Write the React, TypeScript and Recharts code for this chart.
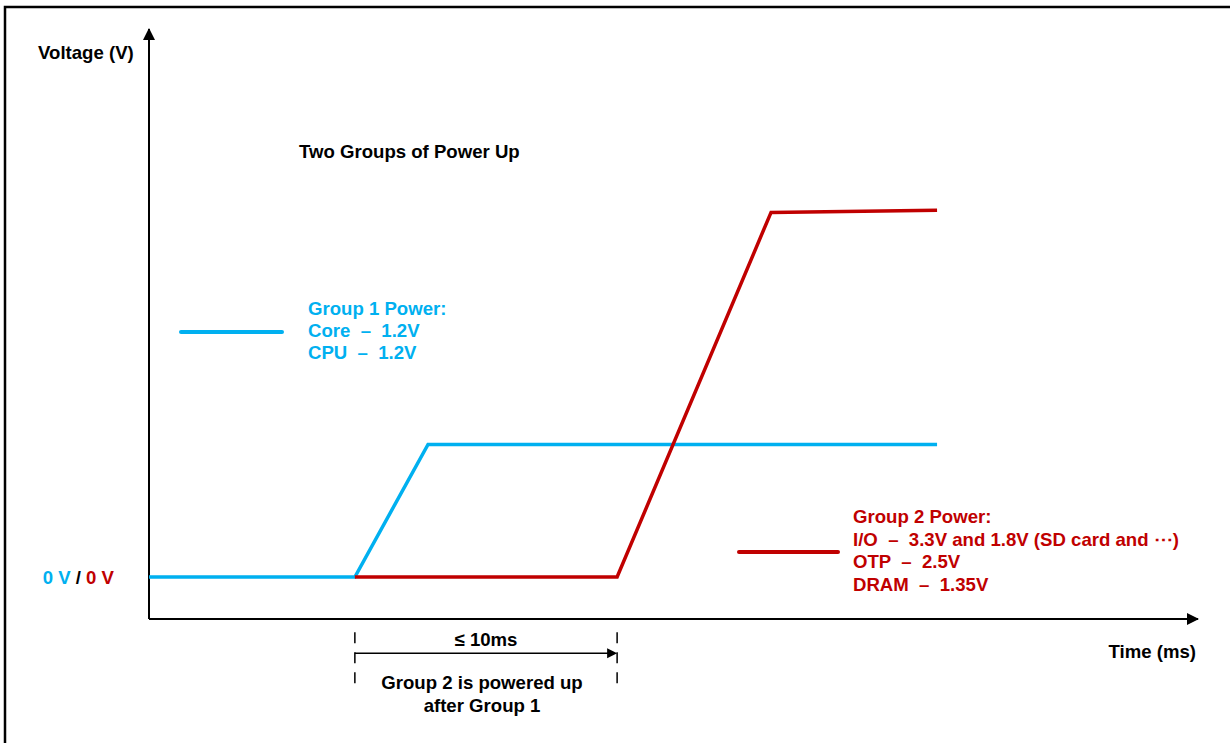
import React from "react";
import { LineChart, Line, XAxis, YAxis, ReferenceLine, ReferenceDot } from "recharts";

// ---- data ----
const group1Power = [
  { t: 0, v: 0 },
  { t: 7.85, v: 0 },
  { t: 10.64, v: 1.2 },
  { t: 30.05, v: 1.2 },
];
const group2Power = [
  { t: 7.85, v: 0 },
  { t: 17.85, v: 0 },
  { t: 23.72, v: 3.3 },
  { t: 30.05, v: 3.32 },
];
const timeDomain = [0, 40];
const voltDomain = [-0.38, 4.96];
const yTicks = [0];
const delayStart = 7.85;
const delayEnd = 17.85;
const group1Legend = ["Group 1 Power:", "Core  \u2013  1.2V", "CPU  \u2013  1.2V"];
const group2Legend = [
  "Group 2 Power:",
  "I/O  \u2013  3.3V and 1.8V (SD card and \u22EF)",
  "OTP  \u2013  2.5V",
  "DRAM  \u2013  1.35V",
];
const titleText = "Two Groups of Power Up";
const yAxisTitle = "Voltage (V)";
const xAxisTitle = "Time (ms)";
const delayLabel = "\u2264 10ms";
const delayNote = ["Group 2 is powered up", "after Group 1"];

const BLUE = "#00B0F0";
const RED = "#C00000";
const FONT = "'Liberation Sans', Arial, Helvetica, sans-serif";
const FS = 18.6;

const textStyle: React.CSSProperties = { whiteSpace: "pre" };

const UpArrow = (props: any) => {
  const { cx, cy } = props;
  return <path d={`M${cx},${cy - 1} L${cx - 6},${cy + 11} L${cx + 6},${cy + 11} Z`} fill="#000" />;
};
const RightArrow = (props: any) => {
  const { cx, cy } = props;
  return <path d={`M${cx + 1},${cy} L${cx - 11},${cy - 6} L${cx - 11},${cy + 6} Z`} fill="#000" />;
};
const SmallRightArrow = (props: any) => {
  const { cx, cy } = props;
  return <path d={`M${cx},${cy} L${cx - 10},${cy - 5} L${cx - 10},${cy + 5} Z`} fill="#000" />;
};

export default function App() {
  return (
    <div style={{ position: "fixed", left: 0, top: 0, width: 1230, height: 743, background: "#fff" }}>
      <LineChart
        width={1230}
        height={743}
        margin={{ top: 29, right: 32, bottom: 124, left: 149 }}
        style={{ fontFamily: FONT }}
      >
        {/* frame */}
        <rect x={5} y={7} width={1400} height={900} fill="none" stroke="#000" strokeWidth={2.5} />
        <XAxis type="number" dataKey="t" domain={timeDomain} allowDataOverflow hide />
        <YAxis type="number" dataKey="v" domain={voltDomain} allowDataOverflow hide ticks={yTicks} />

        {/* axes */}
        <ReferenceLine x={timeDomain[0]} stroke="#000" strokeWidth={2} ifOverflow="visible" />
        <ReferenceLine y={voltDomain[0]} stroke="#000" strokeWidth={2} ifOverflow="visible" />
        <ReferenceDot x={timeDomain[0]} y={voltDomain[1]} ifOverflow="visible" shape={<UpArrow />} />
        <ReferenceDot x={timeDomain[1]} y={voltDomain[0]} ifOverflow="visible" shape={<RightArrow />} />

        <Line
          data={group1Power}
          dataKey="v"
          type="linear"
          stroke={BLUE}
          strokeWidth={3.5}
          dot={false}
          activeDot={false}
          isAnimationActive={false}
          strokeLinejoin="miter"
        />
        <Line
          data={group2Power}
          dataKey="v"
          type="linear"
          stroke={RED}
          strokeWidth={3.5}
          dot={false}
          activeDot={false}
          isAnimationActive={false}
          strokeLinejoin="miter"
        />

        {/* 0 V label at the zero level */}
        <ReferenceDot
          x={timeDomain[0]}
          y={yTicks[0]}
          ifOverflow="visible"
          shape={(p: any) => (
            <text x={p.cx - 35} y={p.cy} dy={6.5} textAnchor="end" fontFamily={FONT} fontWeight="bold" fontSize={FS} style={textStyle}>
              <tspan fill={BLUE}>0 V </tspan>
              <tspan fill="#000">/</tspan>
              <tspan fill={RED}> 0 V</tspan>
            </text>
          )}
        />

        {/* delay dimension */}
        <ReferenceLine
          segment={[{ x: delayStart, y: -0.5 }, { x: delayStart, y: -1.01 }]}
          ifOverflow="visible"
          stroke="#000"
          strokeWidth={1.5}
          strokeDasharray="11 9"
        />
        <ReferenceLine
          segment={[{ x: delayEnd, y: -0.5 }, { x: delayEnd, y: -1.01 }]}
          ifOverflow="visible"
          stroke="#000"
          strokeWidth={1.5}
          strokeDasharray="11 9"
        />
        <ReferenceLine
          segment={[{ x: delayStart, y: -0.69 }, { x: delayEnd - 0.3, y: -0.69 }]}
          ifOverflow="visible"
          stroke="#000"
          strokeWidth={1.5}
        />
        <ReferenceDot x={delayEnd} y={-0.69} ifOverflow="visible" shape={<SmallRightArrow />} />

        {/* texts */}
        <g fontFamily={FONT} fontWeight="bold" fontSize={FS}>
          <text x={38} y={59} fill="#000">{yAxisTitle}</text>
          <text x={299} y={158} fill="#000">{titleText}</text>
          <text x={1196} y={658} textAnchor="end" fill="#000">{xAxisTitle}</text>
          <text x={486} y={646} textAnchor="middle" fill="#000">{delayLabel}</text>
          {delayNote.map((s, i) => (
            <text key={s} x={482} y={689 + i * 23} textAnchor="middle" fill="#000">{s}</text>
          ))}
          <line x1={181} y1={332} x2={282} y2={332} stroke={BLUE} strokeWidth={4} strokeLinecap="round" />
          {group1Legend.map((s, i) => (
            <text key={s} x={308} y={315 + i * 22} fill={BLUE} style={textStyle}>{s}</text>
          ))}
          <line x1={739} y1={552} x2={838} y2={552} stroke={RED} strokeWidth={4} strokeLinecap="round" />
          {group2Legend.map((s, i) => (
            <text key={s} x={853} y={523 + i * 22.5} fill={RED} style={textStyle}>{s}</text>
          ))}
        </g>
      </LineChart>
    </div>
  );
}
